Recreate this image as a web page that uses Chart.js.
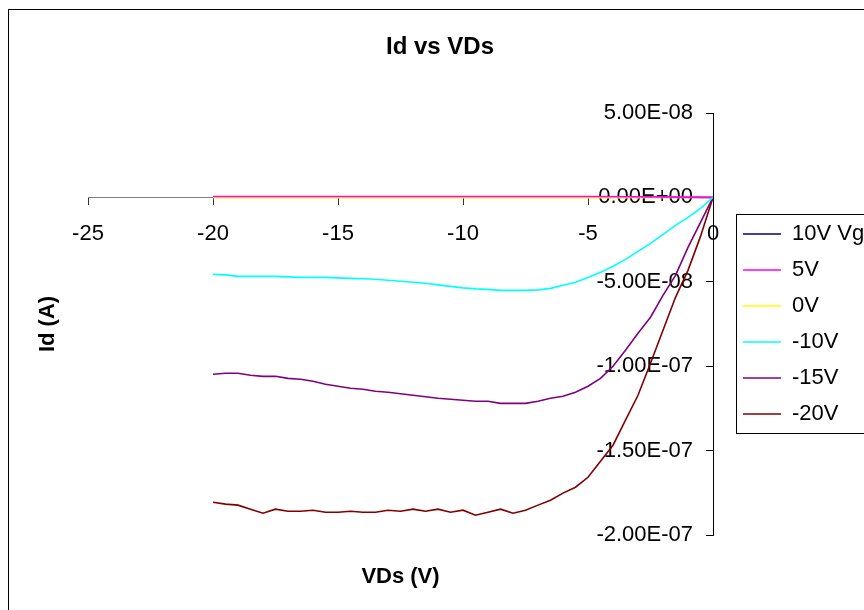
<!DOCTYPE html>
<html>
<head>
<meta charset="utf-8">
<script src="https://cdn.jsdelivr.net/npm/chart.js@4.4.1/dist/chart.umd.min.js"></script>
<style>
  html, body { margin: 0; padding: 0; background: #fff; }
  canvas { display: block; }
</style>
</head>
<body>
<canvas id="chart" width="864" height="610"></canvas>
<script>
// --- data (Vds in V, Id in A) ---
const vds = [-20, -19.5, -19, -18.5, -18, -17.5, -17, -16.5, -16, -15.5, -15, -14.5, -14, -13.5, -13, -12.5, -12, -11.5, -11, -10.5,
  -10, -9.5, -9, -8.5, -8, -7.5, -7, -6.5, -6, -5.5, -5, -4.5, -4, -3.5, -3, -2.5, -2, -1.5, -1, -0.5, 0];

const vdsFlat = [-20, -15, -10, -5, 0];
const id10V = [2e-10, 2e-10, 2e-10, 2e-10, 0];
const id5V = [5e-10, 5e-10, 5e-10, 5e-10, 0];
const id0V = [-2e-10, -2e-10, -2e-10, -2e-10, 0];

const idM10V = [-4.56e-8, -4.59e-8, -4.68e-8, -4.68e-8, -4.68e-8, -4.68e-8, -4.71e-8, -4.74e-8, -4.74e-8, -4.74e-8,
  -4.77e-8, -4.80e-8, -4.82e-8, -4.85e-8, -4.91e-8, -4.97e-8, -5.03e-8, -5.09e-8, -5.18e-8, -5.27e-8,
  -5.36e-8, -5.42e-8, -5.45e-8, -5.51e-8, -5.51e-8, -5.51e-8, -5.48e-8, -5.39e-8, -5.21e-8, -5.03e-8,
  -4.74e-8, -4.44e-8, -4.08e-8, -3.67e-8, -3.20e-8, -2.72e-8, -2.19e-8, -1.66e-8, -1.18e-8, -0.65e-8, 0];

const idM15V = [-1.048e-7, -1.042e-7, -1.042e-7, -1.054e-7, -1.060e-7, -1.060e-7, -1.072e-7, -1.077e-7, -1.089e-7, -1.107e-7,
  -1.119e-7, -1.131e-7, -1.137e-7, -1.148e-7, -1.154e-7, -1.163e-7, -1.172e-7, -1.181e-7, -1.190e-7, -1.196e-7,
  -1.202e-7, -1.208e-7, -1.208e-7, -1.220e-7, -1.220e-7, -1.220e-7, -1.208e-7, -1.190e-7, -1.178e-7, -1.154e-7,
  -1.119e-7, -1.072e-7, -1.000e-7, -0.906e-7, -0.805e-7, -0.710e-7, -0.580e-7, -0.462e-7, -0.296e-7, -0.148e-7, 0];

const idM20V = [-1.806e-7, -1.817e-7, -1.823e-7, -1.847e-7, -1.871e-7, -1.847e-7, -1.859e-7, -1.859e-7, -1.853e-7, -1.865e-7,
  -1.865e-7, -1.859e-7, -1.865e-7, -1.865e-7, -1.853e-7, -1.859e-7, -1.847e-7, -1.859e-7, -1.847e-7, -1.865e-7,
  -1.853e-7, -1.883e-7, -1.865e-7, -1.847e-7, -1.871e-7, -1.853e-7, -1.823e-7, -1.794e-7, -1.752e-7, -1.717e-7,
  -1.658e-7, -1.563e-7, -1.468e-7, -1.320e-7, -1.172e-7, -0.983e-7, -0.787e-7, -0.592e-7, -0.432e-7, -0.231e-7, 0];

const seriesNames = ['10V Vg', '5V', '0V', '-10V', '-15V', '-20V'];
const seriesColors = ['#000080', '#FF00FF', '#FFFF00', '#00FFFF', '#800080', '#800000'];
const xTicks = [-25, -20, -15, -10, -5, 0];
const yTicks = [5e-8, 0, -5e-8, -1e-7, -1.5e-7, -2e-7];

const FONT = "'Liberation Sans', Arial, sans-serif";

function pts(xs, ys) {
  return xs.map((x, i) => ({ x, y: ys[i] }));
}

function fmtSci(v) {
  if (Math.abs(v) < 1e-12) v = 0;
  const [m, e] = v.toExponential(2).split('e');
  const sign = e[0] === '-' ? '-' : '+';
  const digits = e.replace(/[+-]/, '').padStart(2, '0');
  return m + 'E' + sign + digits;
}

// draw order: lower `order` ends up on top
const datasets = [
  { data: pts(vdsFlat, id10V), order: 3 },
  { data: pts(vdsFlat, id5V), order: 1 },
  { data: pts(vdsFlat, id0V), order: 2 },
  { data: pts(vds, idM10V), order: 0 },
  { data: pts(vds, idM15V), order: 0 },
  { data: pts(vds, idM20V), order: 0 },
].map((d, i) => ({
  ...d,
  label: seriesNames[i],
  borderColor: seriesColors[i],
  backgroundColor: seriesColors[i],
  borderWidth: 1.6,
  pointRadius: 0,
  showLine: true,
  fill: false,
  tension: 0,
}));

// Excel-style frame, titles and legend box
const decor = {
  id: 'decor',
  beforeDraw(chart) {
    const ctx = chart.ctx;
    ctx.save();
    ctx.fillStyle = '#fff';
    ctx.fillRect(0, 0, chart.width, chart.height);
    ctx.restore();
  },
  afterDraw(chart) {
    const ctx = chart.ctx;
    const area = chart.chartArea;
    ctx.save();
    ctx.strokeStyle = '#000';
    ctx.lineWidth = 1;
    ctx.strokeRect(8.5, 9.5, 900, 700);

    ctx.fillStyle = '#000';
    ctx.textAlign = 'center';
    ctx.textBaseline = 'middle';
    ctx.font = 'bold 24px ' + FONT;
    ctx.fillText('Id vs VDs', 440, 47);

    ctx.font = 'bold 22px ' + FONT;
    ctx.fillText('VDs (V)', (area.left + area.right) / 2, 577);

    ctx.translate(48, (area.top + area.bottom) / 2);
    ctx.rotate(-Math.PI / 2);
    ctx.fillText('Id (A)', 0, 0);
    ctx.restore();

    const boxes = chart.legend.legendHitBoxes;
    if (boxes && boxes.length) {
      const first = boxes[0];
      const last = boxes[boxes.length - 1];
      ctx.save();
      ctx.strokeStyle = '#000';
      ctx.lineWidth = 1;
      const left = Math.round(first.left) - 6.5;
      const top = Math.round(first.top) - 8.5;
      const bottom = Math.round(last.top + last.height) + 8.5;
      ctx.strokeRect(left, top, 300, bottom - top);
      ctx.restore();
    }
  }
};

new Chart(document.getElementById('chart'), {
  type: 'scatter',
  data: { datasets },
  options: {
    responsive: false,
    animation: false,
    devicePixelRatio: 1,
    layout: { padding: { left: 88, top: 113, bottom: 75, right: 0 } },
    plugins: {
      title: { display: false },
      tooltip: { enabled: false },
      legend: {
        display: true,
        position: 'right',
        align: 'center',
        maxWidth: 135,
        labels: {
          usePointStyle: true,
          pointStyle: 'line',
          pointStyleWidth: 38,
          padding: 14,
          color: '#000',
          font: { family: FONT, size: 22 },
          sort: (a, b) => a.datasetIndex - b.datasetIndex,
        },
      },
    },
    scales: {
      x: {
        type: 'linear',
        min: -25,
        max: 0,
        position: { y: 0 },
        afterBuildTicks: (s) => { s.ticks = xTicks.map(v => ({ value: v })); },
        ticks: {
          color: '#000',
          font: { family: FONT, size: 22 },
          padding: 16,
          maxRotation: 0,
          autoSkip: false,
        },
        grid: { drawOnChartArea: false, drawTicks: true, tickLength: 7, color: '#333' },
        border: { display: true, color: '#808080', width: 1 },
      },
      y: {
        type: 'linear',
        min: -2e-7,
        max: 5e-8,
        // sits on the right edge of the plot (x = 0); labels mirrored to its left side
        position: 'right',
        afterBuildTicks: (s) => { s.ticks = yTicks.map(v => ({ value: v })); },
        afterFit: (s) => { s.width = 16; },
        ticks: {
          color: '#000',
          font: { family: FONT, size: 22 },
          mirror: true,
          padding: -20,
          autoSkip: false,
          callback: (v) => fmtSci(v),
        },
        grid: { drawOnChartArea: false, drawTicks: true, tickLength: -7, color: '#000' },
        border: { display: true, color: '#000', width: 1 },
      },
    },
  },
  plugins: [decor],
});
</script>
</body>
</html>
